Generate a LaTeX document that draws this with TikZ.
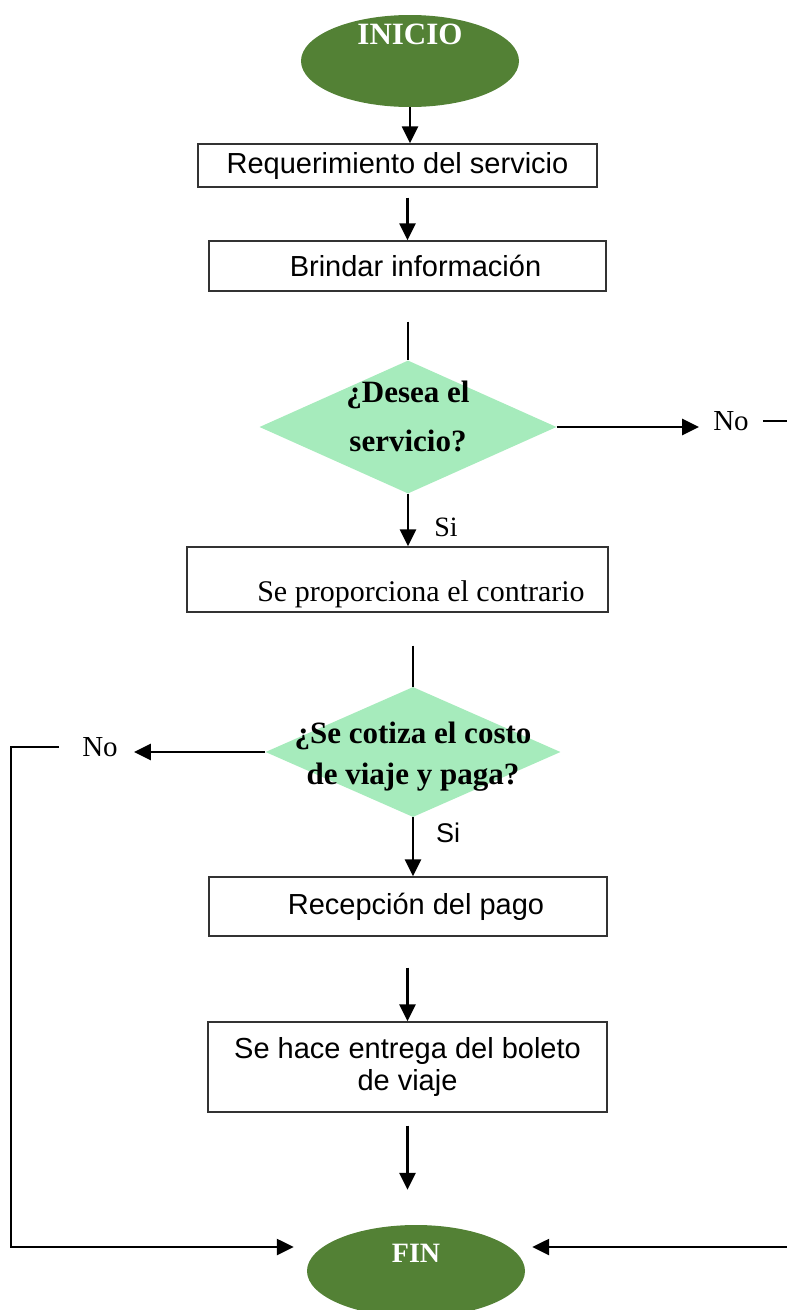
\documentclass[tikz,border=0pt]{standalone}
\usepackage{fontspec}
\setmainfont{Liberation Serif}
\setsansfont{Liberation Sans}
\usepackage{xcolor}
\usetikzlibrary{shapes.geometric, arrows.meta, positioning}
\definecolor{verdeoscuro}{HTML}{538135}
\definecolor{verdeclaro}{HTML}{A6EBBC}

\begin{document}
\begin{tikzpicture}[x=1pt, y=-1pt]
\tikzstyle{terminal} = [ellipse, fill=verdeoscuro, minimum width=218pt, minimum height=92pt, inner sep=0pt]
\tikzstyle{terminaltexto} = [text=white, inner sep=0pt, font=\bfseries\fontsize{31}{36}\selectfont]
\tikzstyle{proceso} = [rectangle, draw=black!80, line width=1.4pt, inner sep=2pt, align=center, font=\sffamily\fontsize{29}{32}\selectfont]
\tikzstyle{decision} = [diamond, fill=verdeclaro, inner sep=0pt]
\tikzstyle{pregunta} = [align=center, inner sep=0pt]
\tikzstyle{etiqueta} = [inner sep=2pt, font=\fontsize{29}{32}\selectfont]
\tikzstyle{flecha} = [line width=2.5pt, -{Triangle[length=17pt, width=16pt]}]
\tikzstyle{linea} = [line width=2.5pt]

\useasboundingbox (0,0) rectangle (787,1310);

\node (inicio) [terminal, label={[terminaltexto, yshift=27pt]center:INICIO}] at (410,61) {};
\node (req) [proceso, minimum width=399pt, minimum height=43pt] at (397.5,165.5) {Requerimiento del servicio};
\node (brindar) [proceso, minimum width=397pt, minimum height=50pt] at (407.5,266) {\hspace*{16pt}Brindar información};
\node (desea) [decision, minimum width=297pt, minimum height=133pt, label={[pregunta, font=\bfseries\fontsize{31}{49}\selectfont, yshift=10.5pt]center:{¿Desea el\\servicio?}}] at (408,427) {};
\node (noa) [etiqueta] at (731,421) {No};
\node (sia) [etiqueta, font=\fontsize{28}{32}\selectfont] at (446,527) {Si};
\node (contrato) [proceso, minimum width=421pt, minimum height=65pt, label={[etiqueta, font=\fontsize{30}{34}\selectfont, xshift=23.5pt, yshift=-15pt]center:Se proporciona el contrario}] at (397.5,579.5) {};
\node (cotiza) [decision, minimum width=295pt, minimum height=130pt, label={[pregunta, font=\bfseries\fontsize{31}{41}\selectfont, yshift=-5pt]center:{¿Se cotiza el costo\\de viaje y paga?}}] at (413,752) {};
\node (nob) [etiqueta] at (100,747) {No};
\node (sib) [etiqueta, font=\sffamily\fontsize{27}{30}\selectfont] at (448,833) {Si};
\node (pago) [proceso, minimum width=398pt, minimum height=59pt] at (408,906.5) {\hspace*{16pt}Recepción del pago};
\node (entrega) [proceso, minimum width=399pt, minimum height=90pt] at (407.5,1067) {Se hace entrega del boleto\\de viaje};
\node (fin) [terminal, label={[terminaltexto, font=\bfseries\fontsize{28}{32}\selectfont, yshift=18pt]center:FIN}] at (416,1271) {};
\coordinate (esqder) at (792,1247);
\coordinate (esqizq) at (11,1247);

\draw[flecha] (inicio.south) -- (inicio.south |- req.north);
\draw[flecha, shorten <=10pt] (req.south -| brindar.north) -- (brindar.north);
\draw[linea, shorten <=30pt] (brindar.south -| desea.north) -- (desea.north);
\draw[flecha, shorten >=12pt] (desea.east) -- (desea.east -| noa.west);
\draw[flecha] (desea.south) -- (desea.south |- contrato.north);
\draw[linea, shorten <=33pt] (contrato.south -| cotiza.north) -- (cotiza.north);
\draw[flecha, shorten >=14pt] (cotiza.west) -- (cotiza.west -| nob.east);
\draw[flecha] (cotiza.south) -- (cotiza.south |- pago.north);
\draw[flecha, shorten <=31pt] (pago.south -| entrega.north) -- (entrega.north);
\draw[flecha, shorten <=13pt, shorten >=35pt] (entrega.south) -- (entrega.south |- fin.north);
\draw[flecha, shorten <=12pt, shorten >=7pt] (noa.east) -| (esqder) -- (esqder -| fin.east);
\draw[flecha, shorten <=21pt, shorten >=13pt] (nob.west) -| (esqizq) -- (esqizq -| fin.west);

\end{tikzpicture}
\end{document}
